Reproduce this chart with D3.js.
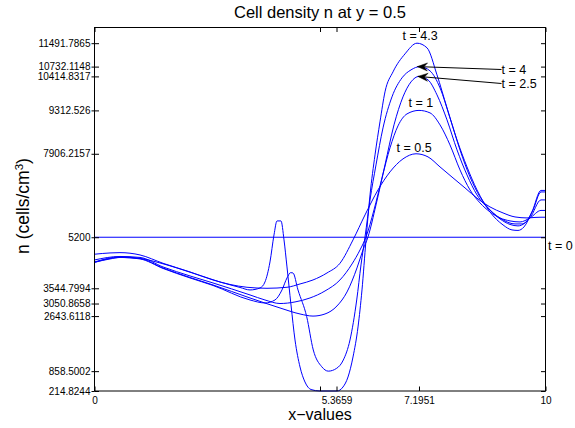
<!DOCTYPE html>
<html>
<head>
<meta charset="utf-8">
<script src="https://cdn.jsdelivr.net/npm/d3@7"></script>
<style>
  html, body { margin: 0; padding: 0; background: #fff; }
  svg { display: block; }
  text { font-family: "Liberation Sans", Arial, Helvetica, sans-serif; fill: #000; }
</style>
</head>
<body>
<svg id="chart" width="575" height="428"></svg>
<script>
// ---------------- data ----------------
const title = "Cell density n at y = 0.5";
const xLabel = "x\u2212values";

const xTickVals = [0, 5, 5.3659, 7.1951, 10];
const xTickLabels = ["0", "", "5.3659", "7.1951", "10"];
const yTickVals = [214.8244, 858.5002, 2643.6118, 3050.8658, 3544.7994, 5200,
                   7906.2157, 9312.526, 10414.8317, 10732.1148, 11491.7865];
const yTickLabels = ["214.8244", "858.5002", "2643.6118", "3050.8658", "3544.7994", "5200",
                     "7906.2157", "9312.526", "10414.8317", "10732.1148", "11491.7865"];

const x_t0 = [0, 10];
const n_t0 = [5200, 5200];

const x_t05 = [0, 0.344, 0.565, 1.009, 1.519, 2.118, 2.627, 3.004, 3.381, 3.825, 4.268, 4.557,
               4.845, 5.155, 5.443, 5.732, 5.998, 6.286, 6.552, 6.840, 7.129, 7.395, 7.661, 7.949,
               8.215, 8.503, 8.769, 9.058, 9.324, 9.590, 9.767, 9.900, 10];
const n_t05 = [4649, 4691, 4701, 4626, 4356, 4075, 3815, 3669, 3578, 3545, 3578, 3685,
               3815, 4042, 4356, 5113, 5923, 6734, 7318, 7740, 7906, 7805, 7480, 7124,
               6799, 6442, 6183, 5988, 5858, 5826, 5842, 5849, 5849];

const x_t1 = [0, 0.565, 1.009, 1.519, 2.118, 2.627, 3.448, 3.780, 4.113, 4.446, 4.778, 5.111,
              5.443, 5.710, 5.887, 6.020, 6.197, 6.375, 6.552, 6.729, 6.929, 7.195, 7.439, 7.661,
              7.882, 8.104, 8.326, 8.548, 8.769, 8.991, 9.213, 9.435, 9.656, 9.900, 10];
const n_t1 = [4464, 4577, 4545, 4237, 3945, 3718, 3329, 3166, 3051, 3102, 3231, 3458,
              3815, 4334, 4788, 5210, 6085, 7124, 8097, 8810, 9199, 9312.5, 9232, 8843,
              8194, 7383, 6734, 6313, 6021, 5826, 5729, 5696, 5826, 6069, 6069];

const x_t25 = [0, 0.565, 1.009, 1.519, 2.118, 2.627, 3.448, 4.113, 4.557, 4.845, 5.111, 5.377,
               5.599, 5.820, 5.953, 6.064, 6.242, 6.441, 6.641, 6.840, 7.018, 7.195, 7.395, 7.594,
               7.816, 8.038, 8.259, 8.481, 8.769, 9.058, 9.324, 9.479, 9.656, 9.900, 10];
const n_t25 = [4399, 4561, 4512, 4204, 3896, 3653, 3231, 2907, 2712, 2643.6, 2712, 2972,
               3426, 4204, 4788, 5210, 6248, 7545, 8843, 9751, 10237, 10414.8, 10302, 9816,
               9005, 8032, 7221, 6572, 6085, 5761, 5631, 5631, 5826, 6410, 6410];

const x_t4 = [0, 0.565, 1.009, 1.519, 2.118, 2.627, 3.448, 3.780, 4.002, 4.157, 4.268, 4.350,
              4.401, 4.512, 4.705, 4.851, 5.038, 5.184, 5.370, 5.517, 5.665, 5.814, 5.909, 5.998,
              6.109, 6.242, 6.397, 6.596, 6.818, 7.018, 7.217, 7.439, 7.661, 7.882, 8.104, 8.326,
              8.548, 8.769, 8.991, 9.213, 9.390, 9.545, 9.723, 9.900, 10];
const n_t4 = [4383, 4545, 4496, 4188, 3880, 3637, 3166, 3069, 3166, 3491, 3880, 4052,
              4042, 3491, 2625, 1545, 1003, 858.5, 951, 1220, 1869, 3166, 4302, 5210,
              6410, 7545, 8745, 9751, 10367, 10626, 10732.1, 10594, 10043, 9070, 8032, 7156,
              6507, 6085, 5794, 5615, 5567, 5664, 6085, 6669, 6669];

const x_t43 = [0, 0.344, 0.565, 1.009, 1.452, 1.896, 2.339, 2.783, 3.226, 3.448, 3.670, 3.780,
               3.891, 3.980, 4.047, 4.135, 4.202, 4.268, 4.357, 4.446, 4.557, 4.667, 4.800, 5.000,
               5.377, 5.510, 5.621, 5.732, 5.843, 5.931, 6.020, 6.109, 6.220, 6.330, 6.441, 6.619,
               6.885, 7.151, 7.373, 7.594, 7.816, 8.038, 8.259, 8.481, 8.769, 9.058, 9.257, 9.390,
               9.523, 9.701, 9.900, 10];
const n_t43 = [4389, 4496, 4545, 4512, 4366, 4172, 3961, 3750, 3572, 3491, 3556, 3750,
               4399, 5275, 5729, 5729, 5113, 4237, 3004, 1869, 993, 507, 263, 214.8244,
               214.8244, 345, 669, 1318, 2291, 3491, 5113, 6572, 7870, 8940, 9913, 10562,
               11145, 11491.7865, 11340, 10464, 9394, 8356, 7480, 6734, 6021, 5599, 5437, 5421,
               5534, 6021, 6718, 6718];

const seriesNames = ["t = 0", "t = 0.5", "t = 1", "t = 2.5", "t = 4", "t = 4.3"];
const seriesX = [x_t0, x_t05, x_t1, x_t25, x_t4, x_t43];
const seriesN = [n_t0, n_t05, n_t1, n_t25, n_t4, n_t43];

// ---------------- layout ----------------
const svg = d3.select("#chart");
const L = 94.5, R = 545.5, T = 27.5, B = 391;
const x = d3.scaleLinear().domain([0, 10]).range([L, R]);
const y = d3.scaleLinear().domain([214.8244, 12000]).range([B, T]);

svg.append("rect").attr("width", 575).attr("height", 428).attr("fill", "#fff");

// curves
const line = d3.line().x(d => x(d[0])).y(d => y(d[1])).curve(d3.curveMonotoneX);
seriesX.forEach((xs, i) => {
  const pts = xs.map((v, j) => [v, seriesN[i][j]]);
  svg.append("path").datum(pts)
    .attr("d", line)
    .attr("fill", "none")
    .attr("stroke", "#0000ff")
    .attr("stroke-width", 1);
});

// axes
const tickFont = 10;
const gL = svg.append("g").attr("transform", `translate(${L},0)`)
  .call(d3.axisLeft(y).tickValues(yTickVals).tickFormat((d, i) => yTickLabels[i])
        .tickSize(-4.5).tickPadding(4));
gL.selectAll(".tick").append("line").attr("x1", 0).attr("x2", -3).attr("stroke", "#000");
const gR = svg.append("g").attr("transform", `translate(${R},0)`)
  .call(d3.axisRight(y).tickValues(yTickVals).tickFormat("").tickSize(-4.5));
const gB = svg.append("g").attr("transform", `translate(0,${B})`)
  .call(d3.axisBottom(x).tickValues(xTickVals).tickFormat((d, i) => xTickLabels[i])
        .tickSize(-4.5).tickPadding(5.5));
const gT = svg.append("g").attr("transform", `translate(0,${T})`)
  .call(d3.axisTop(x).tickValues(xTickVals).tickFormat("").tickSize(-4.5));
[gL, gR, gB, gT].forEach(g => {
  g.select(".domain").remove();
  g.selectAll(".tick line").attr("stroke", "#000");
  g.selectAll("text").style("font-size", tickFont + "px")
    .style("font-family", '"Liberation Sans", Arial, sans-serif').attr("fill", "#000");
});
svg.append("rect").attr("x", L).attr("y", T).attr("width", R - L).attr("height", B - T)
  .attr("fill", "none").attr("stroke", "#000").attr("stroke-width", 1);

// title and labels
svg.append("text").attr("x", (L + R) / 2).attr("y", 18).attr("text-anchor", "middle")
  .style("font-size", "16.5px").text(title);
svg.append("text").attr("x", (L + R) / 2).attr("y", 420).attr("text-anchor", "middle")
  .style("font-size", "16px").text(xLabel);
const yl = svg.append("text").attr("transform", "translate(28.5,206) rotate(-90)")
  .attr("text-anchor", "middle").style("font-size", "17.5px");
yl.append("tspan").text("n (cells/cm");
yl.append("tspan").attr("dy", "-0.45em").style("font-size", "11.5px").text("3");
yl.append("tspan").attr("dy", "0.3em").text(")");

// annotations
const ann = [
  { label: "t = 4.3", tx: 402.5, ty: 40 },
  { label: "t = 1",   tx: 408.5, ty: 107 },
  { label: "t = 0.5", tx: 396.5, ty: 151.5 },
  { label: "t = 0",   tx: 548,   ty: 250 },
  { label: "t = 4",   tx: 501.5, ty: 73.5, ax: 7.16, ay: 10732.1148 },
  { label: "t = 2.5", tx: 501.5, ty: 87.5, ax: 7.17, ay: 10414.8317 }
];
ann.forEach(a => {
  svg.append("text").attr("x", a.tx).attr("y", a.ty).style("font-size", "12.5px").text(a.label);
  if (a.ax !== undefined) {
    const x1 = a.tx, y1 = a.ty - 4, x2 = x(a.ax), y2 = y(a.ay);
    svg.append("line").attr("x1", x1).attr("y1", y1).attr("x2", x2).attr("y2", y2)
      .attr("stroke", "#000").attr("stroke-width", 1);
    const dx = x1 - x2, dy = y1 - y2, len = Math.hypot(dx, dy);
    const ux = dx / len, uy = dy / len, px = -uy, py = ux;
    const hl = 10, hw = 4, nb = 6.5;
    const pts = [[x2, y2],
                 [x2 + hl * ux + hw * px, y2 + hl * uy + hw * py],
                 [x2 + nb * ux, y2 + nb * uy],
                 [x2 + hl * ux - hw * px, y2 + hl * uy - hw * py]];
    svg.append("path").attr("d", "M" + pts.map(p => p.join(",")).join("L") + "Z")
      .attr("fill", "#000").attr("stroke", "#000").attr("stroke-width", 0.5);
  }
});
</script>
</body>
</html>
